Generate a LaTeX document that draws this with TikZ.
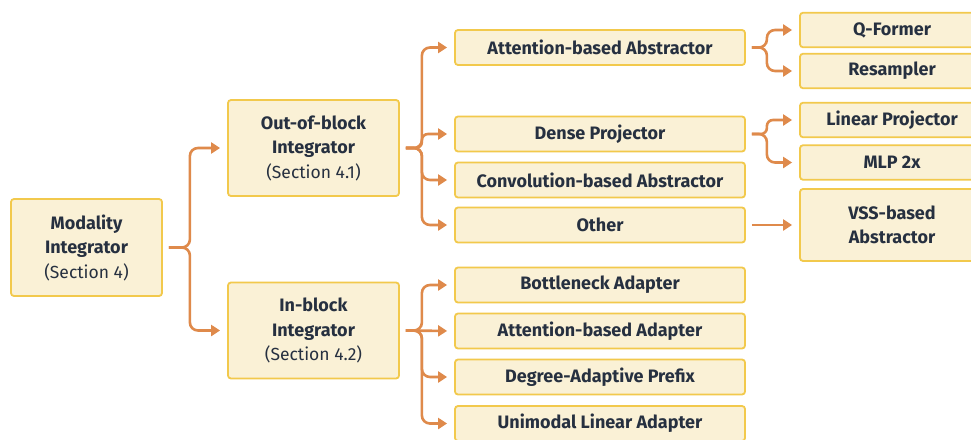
\documentclass[tikz,border=0pt]{standalone}
\usepackage{fontspec}
\setmainfont{Fira Sans}
\usetikzlibrary{arrows.meta}
\definecolor{boxfill}{HTML}{FAF1D6}
\definecolor{boxdraw}{HTML}{F2C94C}
\definecolor{conncol}{HTML}{DF8A4B}
\definecolor{txtcol}{HTML}{263040}
\newcommand{\secfont}{\fontsize{17.5}{24.5}\selectfont\mdseries}
\begin{document}
\begin{tikzpicture}[x=1pt,y=-1pt,
  box/.style={draw=boxdraw, fill=boxfill, line width=1.8pt, rounded corners=3pt,
    text=txtcol, font=\fontsize{18}{24.5}\selectfont\bfseries, align=center, inner sep=0pt},
  bigbox/.style={box, minimum width=171pt, minimum height=96pt},
  rootbox/.style={box, minimum width=151pt, minimum height=97pt},
  midbox/.style={box, minimum width=290pt, minimum height=35pt},
  leafbox/.style={box, minimum width=184pt, minimum height=34.5pt},
  connector/.style={draw=conncol, line width=2.6pt, rounded corners=8pt,
    -{Triangle[length=9pt,width=11pt]}, shorten <=6pt, shorten >=7pt}
]
\clip (0,0) rectangle (971,439);
\fill[white] (0,0) rectangle (971,439);

% root
\node[rootbox] (mod) at (86.5,247.5) {Modality\\Integrator\\{\secfont (Section 4)}};
% level 1
\node[bigbox] (oob) at (313.5,148) {Out-of-block\\Integrator\\{\secfont (Section 4.1)}};
\node[bigbox] (inb) at (313.5,330.5) {In-block\\Integrator\\{\secfont (Section 4.2)}};
% level 2
\node[midbox] (aba) at (600,47.5) {Attention-based Abstractor};
\node[midbox] (dp)  at (600,134) {Dense Projector};
\node[midbox] (cba) at (600,180) {Convolution-based Abstractor};
\node[midbox] (oth) at (600,225) {Other};
\node[midbox] (bna) at (600,285) {Bottleneck Adapter};
\node[midbox] (ada) at (600,331) {Attention-based Adapter};
\node[midbox] (dap) at (600,377) {Degree-Adaptive Prefix};
\node[midbox] (ula) at (600,423.5) {Unimodal Linear Adapter};
% level 3
\node[leafbox] (qf)  at (892,30) {Q-Former};
\node[leafbox] (rs)  at (892,71) {Resampler};
\node[leafbox] (lp)  at (892,120) {Linear Projector};
\node[leafbox] (mlp) at (892,162.5) {MLP 2x};
\node[leafbox, minimum height=72pt] (vss) at (892,225) {VSS-based\\Abstractor};

% connectors
\draw[connector] (mod.east) -- ++(27,0) |- (oob.west);
\draw[connector] (mod.east) -- ++(27,0) |- (inb.west);

\draw[connector] (oob.east) -- ++(22,0) |- (aba.west);
\draw[connector, rounded corners=6pt] (oob.east) -- ++(22,0) |- (dp.west);
\draw[connector] (oob.east) -- ++(22,0) |- (cba.west);
\draw[connector] (oob.east) -- ++(22,0) |- (oth.west);

\draw[connector] (inb.east) -- ++(22,0) |- (bna.west);
\draw[connector] (inb.east) -- (ada.west);
\draw[connector] (inb.east) -- ++(22,0) |- (dap.west);
\draw[connector] (inb.east) -- ++(22,0) |- (ula.west);

\draw[connector] (aba.east) -- ++(21,0) |- (qf.west);
\draw[connector] (aba.east) -- ++(21,0) |- (rs.west);
\draw[connector, rounded corners=6pt] (dp.east) -- ++(21,0) |- (lp.west);
\draw[connector] (dp.east) -- ++(21,0) |- (mlp.west);
\draw[connector] (oth.east) -- (vss.west);
\end{tikzpicture}
\end{document}
